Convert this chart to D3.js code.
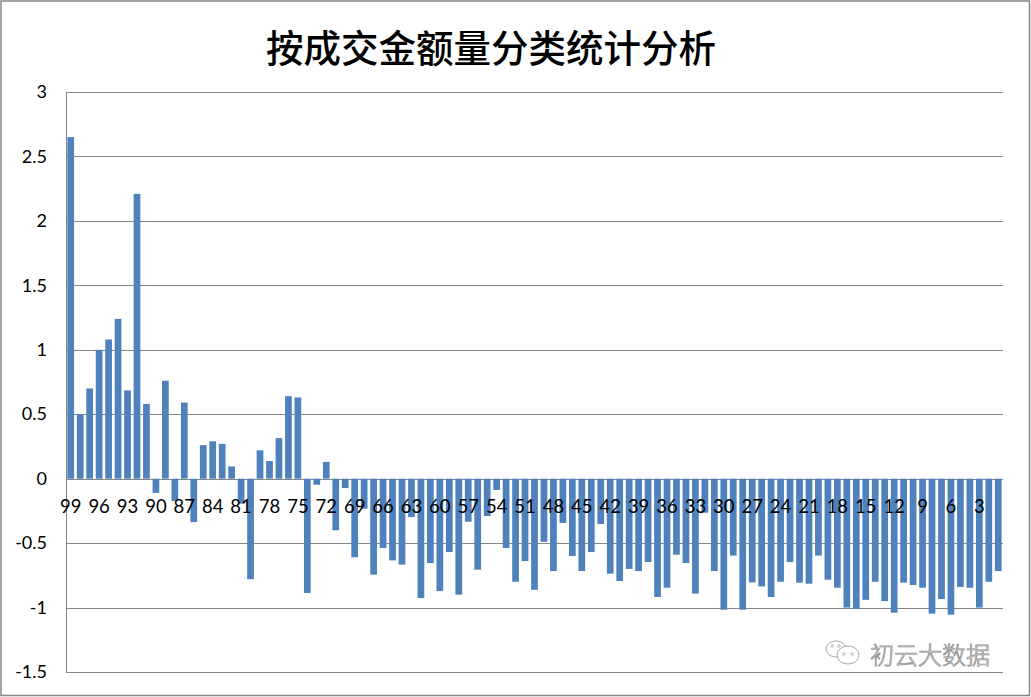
<!DOCTYPE html>
<html><head><meta charset="utf-8">
<script src="https://cdn.jsdelivr.net/npm/d3@7"></script>
<style>body{margin:0;background:#fff;}svg{display:block;}</style>
</head><body>
<svg id="c" width="1031" height="697"></svg>
<script>
const title = "按成交金额量分类统计分析";
const watermark = "初云大数据";
const categories = d3.range(99, 0, -1).map(String);
const values = [
 2.65, 0.50, 0.70, 1.00, 1.08, 1.24, 0.685, 2.21, 0.58, -0.11,
 0.76, -0.174, 0.59, -0.337, 0.26, 0.29, 0.27, 0.095, -0.194, -0.78,
 0.22, 0.137, 0.315, 0.64, 0.63, -0.887, -0.047, 0.13, -0.40, -0.073,
 -0.61, -0.233, -0.745, -0.538, -0.634, -0.667, -0.298, -0.926, -0.655, -0.872,
 -0.569, -0.90, -0.334, -0.706, -0.29, -0.088, -0.538, -0.80, -0.64, -0.862,
 -0.49, -0.717, -0.344, -0.60, -0.717, -0.569, -0.352, -0.737, -0.794, -0.70,
 -0.717, -0.647, -0.918, -0.846, -0.59, -0.655, -0.892, -0.264, -0.717, -1.017,
 -0.597, -1.017, -0.805, -0.836, -0.918, -0.80, -0.647, -0.807, -0.815, -0.597,
 -0.784, -0.846, -1.0, -1.01, -0.94, -0.80, -0.95, -1.04, -0.807, -0.825,
 -0.846, -1.047, -0.934, -1.055, -0.84, -0.846, -1.0, -0.80, -0.717
];
const yTicks = [-1.5, -1, -0.5, 0, 0.5, 1, 1.5, 2, 2.5, 3];
const xLabelStep = 3;

const svg = d3.select("#c");
const W = 1031, H = 697;
const L = 66, R = 1003, T = 92, B = 672;

svg.append("rect").attr("x", 1).attr("y", 1).attr("width", W - 2.5).attr("height", H - 2.5)
  .attr("fill", "#fff").attr("stroke", "#868686").attr("stroke-width", 1.5);

const x = d3.scaleBand().domain(categories).range([L, R]).paddingInner(0.29).paddingOuter(0.145);
const y = d3.scaleLinear().domain([-1.5, 3]).range([B, T]);

// gridlines
svg.append("g").selectAll("line").data(yTicks).join("line")
  .attr("x1", L).attr("x2", R)
  .attr("y1", d => Math.round(y(d)) + 0.5).attr("y2", d => Math.round(y(d)) + 0.5)
  .attr("stroke", "#868686").attr("stroke-width", 1);

// y axis line
svg.append("line").attr("x1", L + 0.5).attr("x2", L + 0.5).attr("y1", T).attr("y2", B)
  .attr("stroke", "#868686");

// y labels
const yAxis = d3.axisLeft(y).tickValues(yTicks).tickSize(0).tickPadding(19).tickFormat(d => String(d));
const gy = svg.append("g").attr("transform", `translate(${L},0)`).call(yAxis);
gy.select(".domain").remove();
gy.selectAll("text").attr("font-family", "Lato, 'Open Sans', sans-serif").attr("font-size", 18).attr("fill", "#000");

// bars
svg.append("g").selectAll("rect").data(values).join("rect")
  .attr("x", (d, i) => x(categories[i]))
  .attr("width", x.bandwidth())
  .attr("y", d => y(Math.max(0, d)))
  .attr("height", d => Math.abs(y(d) - y(0)))
  .attr("fill", "#4F81BD");

// x labels
const xAxis = d3.axisBottom(x).tickValues(categories.filter(c => +c % xLabelStep === 0)).tickSize(0).tickPadding(19);
const gx = svg.append("g").attr("transform", `translate(0,${y(0)})`).call(xAxis);
gx.select(".domain").remove();
gx.selectAll("text").attr("font-family", "Lato, 'Open Sans', sans-serif").attr("font-size", 18.5).attr("fill", "#000")
  .attr("dy", "0.32em").attr("y", 28);

// title
svg.append("text").attr("x", 491).attr("y", 62).attr("text-anchor", "middle")
  .attr("font-family", "'Noto Sans CJK SC', sans-serif").attr("font-size", 37.5).attr("font-weight", 500).attr("fill", "#000")
  .text(title);

// watermark
const wm = svg.append("g").attr("transform", "translate(826,652)");
wm.append("ellipse").attr("cx", 10).attr("cy", -3).attr("rx", 10).attr("ry", 8).attr("fill", "none").attr("stroke", "#aaa").attr("stroke-width", 1);
wm.append("ellipse").attr("cx", 22).attr("cy", 3).attr("rx", 11).attr("ry", 9).attr("fill", "#fff").attr("stroke", "#aaa").attr("stroke-width", 1);
wm.selectAll("circle").data([[6,-6],[13,-6],[18,2],[26,2]]).join("circle")
  .attr("cx", d => d[0]).attr("cy", d => d[1]).attr("r", 1.3).attr("fill", "none").attr("stroke", "#aaa").attr("stroke-width", 0.8);
svg.append("text").attr("x", 870).attr("y", 664)
  .attr("font-family", "'Noto Sans CJK SC', sans-serif").attr("font-size", 24).attr("font-weight", 300)
  .attr("fill", "#e8e8e8").attr("stroke", "#8a8a8a").attr("stroke-width", 0.7)
  .text(watermark);
</script>
</body></html>
